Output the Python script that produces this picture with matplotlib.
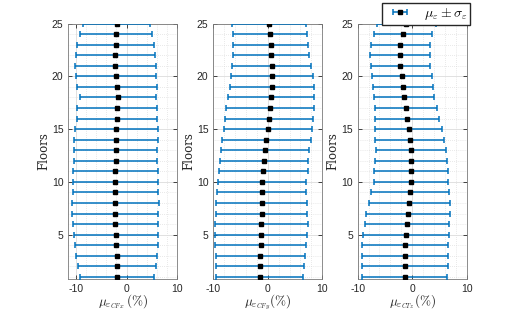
import numpy as np
import matplotlib
matplotlib.use('Agg')
import matplotlib.pyplot as plt
from matplotlib.ticker import MultipleLocator

plt.rcParams['font.family'] = ['Liberation Sans', 'DejaVu Sans']
plt.rcParams['mathtext.fontset'] = 'cm'
plt.rcParams['axes.unicode_minus'] = False

floors = np.arange(25, 0, -1)

# CFx: mean and std per floor (top floor first)
mean_cfx = [-1.97, -2.05, -2.15, -2.2, -2.2, -2.1, -1.9, -1.7, -1.85, -1.9, -2.05, -2.15, -2.15,
            -2.15, -2.2, -2.2, -2.2, -2.25, -2.25, -2.2, -2.15, -2.0, -1.95, -1.9, -1.8]
std_cfx = [6.58, 7.15, 7.55, 7.8, 7.9, 7.9, 7.8, 7.55, 7.85, 7.95, 8.15, 8.25, 8.15,
           8.15, 8.3, 8.3, 8.45, 8.55, 8.5, 8.45, 8.25, 8.1, 7.95, 7.6, 7.3]

# CFy
mean_cfy = [0.2, 0.37, 0.5, 0.6, 0.7, 0.8, 0.7, 0.6, 0.45, 0.25, 0.0, -0.25, -0.55,
            -0.65, -0.8, -1.05, -1.1, -1.15, -1.15, -1.2, -1.25, -1.3, -1.35, -1.45, -1.5]
std_cfy = [6.8, 6.8, 6.9, 7.05, 7.25, 7.5, 7.7, 7.9, 8.05, 8.1, 8.1, 8.1, 8.05,
           8.05, 8.1, 8.15, 8.2, 8.35, 8.4, 8.5, 8.45, 8.3, 8.2, 8.1, 8.05]

# CTz
mean_ctz = [-1.05, -1.7, -2.15, -2.25, -2.15, -1.9, -1.7, -1.45, -1.2, -0.9, -0.65, -0.45, -0.2,
            -0.2, -0.2, -0.2, -0.35, -0.5, -0.75, -1.0, -1.15, -1.25, -1.35, -1.4, -1.4]
std_ctz = [5.45, 5.4, 5.4, 5.45, 5.45, 5.45, 5.5, 5.5, 5.7, 5.9, 6.15, 6.35, 6.45,
           6.6, 6.75, 6.8, 7.15, 7.45, 7.7, 7.75, 7.9, 7.9, 7.95, 7.9, 7.8]

xlabels = [r'$\mu_{\varepsilon_{CFx}}\,(\%)$', r'$\mu_{\varepsilon_{CFy}}(\%)$', r'$\mu_{\varepsilon_{CTz}}(\%)$']
xlims = [(-11.5, 10), (-10, 10), (-10, 10)]

W, H = 516, 312
fig = plt.figure(figsize=(W / 100, H / 100), dpi=100)
lefts = [68.3, 213.3, 357.7]
top, bottom, width = 23.5, 279.0, 109.0

blue = '#0072BD'
txt = '#262626'
for i, (m, s) in enumerate([(mean_cfx, std_cfx), (mean_cfy, std_cfy), (mean_ctz, std_ctz)]):
    ax = fig.add_axes([lefts[i] / W, (H - bottom) / H, width / W, (bottom - top) / H])
    ax.errorbar(m, floors, xerr=s, fmt='s', color='k', ecolor=blue, elinewidth=1.1,
                capsize=2.3, capthick=1.1, markersize=3.2, markerfacecolor='k',
                label=r'$\mu_\varepsilon \pm \sigma_\varepsilon$', zorder=3)
    ax.set_xlim(*xlims[i])
    ax.set_ylim(0.8, 25)
    ax.set_xticks([-10, 0, 10])
    ax.set_yticks([5, 10, 15, 20, 25])
    ax.xaxis.set_minor_locator(MultipleLocator(2))
    ax.yaxis.set_minor_locator(MultipleLocator(1))
    ax.grid(True, which='major', color='#dcdcdc', linewidth=0.6, zorder=0)
    ax.grid(True, which='minor', color='#d4d4d4', linestyle=(0, (1, 2)), linewidth=0.5, zorder=0)
    ax.set_axisbelow(True)
    ax.tick_params(which='major', direction='in', length=3, width=0.6, top=True, right=True,
                   labelsize=7.5, colors=txt, pad=3.5)
    ax.tick_params(which='minor', length=0)
    for sp in ax.spines.values():
        sp.set_color('#7a7a7a')
        sp.set_linewidth(0.6)
    ax.set_xlabel(xlabels[i], fontsize=9.5, color=txt, labelpad=-1)
    ax.set_ylabel('Floors', fontsize=8.5, family='serif', color=txt, labelpad=1)
    if i == 2:
        ax.legend(loc='upper right', bbox_to_anchor=(470 / W, 1 - 3 / H),
                  bbox_transform=fig.transFigure, fontsize=10, frameon=True,
                  fancybox=False, edgecolor='#262626', framealpha=1, borderaxespad=0,
                  borderpad=0.2, handlelength=2.2, handletextpad=0.6)

fig.savefig('out.png', dpi=100)
